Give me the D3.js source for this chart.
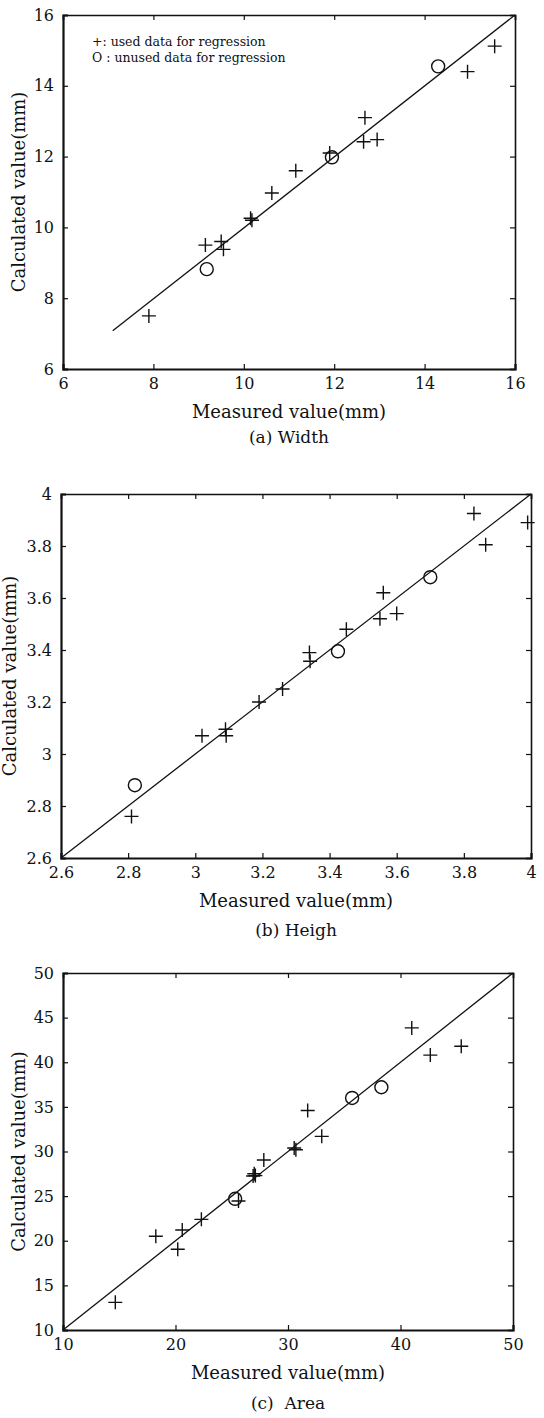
<!DOCTYPE html>
<html>
<head>
<meta charset="utf-8">
<script src="https://cdn.jsdelivr.net/npm/d3@7"></script>
<style>
  body { margin: 0; background: #fff; }
  text { font-family: "DejaVu Serif", "Liberation Serif", serif; fill: #111; }
</style>
</head>
<body>
<div id="chart-area"></div>
<script>
// Data ------------------------------------------------------
// [measured, calculated]
const widthUsed = [[7.9, 7.5], [9.15, 9.5], [9.5, 9.6], [9.55, 9.38], [10.15, 10.26], [10.18, 10.2],
  [10.62, 10.97], [11.15, 11.6], [11.9, 12.1], [12.65, 12.42], [12.95, 12.48], [12.68, 13.1],
  [14.95, 14.4], [15.55, 15.12]]
const widthUnused = [[9.18, 8.82], [11.95, 11.98], [14.3, 14.55]]
const widthFit = [[7.1, 7.08], [16, 16]]

const heightUsed = [[2.81, 2.76], [3.02, 3.07], [3.09, 3.095], [3.092, 3.07], [3.19, 3.2], [3.26, 3.25],
  [3.34, 3.39], [3.342, 3.357], [3.45, 3.48], [3.55, 3.52], [3.56, 3.62], [3.6, 3.54],
  [3.83, 3.925], [3.865, 3.805], [3.99, 3.89]]
const heightUnused = [[2.82, 2.88], [3.425, 3.395], [3.7, 3.68]]
const heightFit = [[2.6, 2.6], [4, 4]]

const areaUsed = [[14.65, 13.1], [18.25, 20.5], [20.2, 19.05], [20.6, 21.2], [22.3, 22.4], [25.6, 24.45],
  [26.9, 27.25], [27.0, 27.5], [27.1, 27.3], [27.85, 29.05], [30.55, 30.4], [30.7, 30.2],
  [31.75, 34.6], [33.0, 31.7], [41.0, 43.85], [42.65, 40.8], [45.4, 41.8]]
const areaUnused = [[25.3, 24.7], [35.7, 36.0], [38.3, 37.2]]
const areaFit = [[10, 10], [50, 50]]

// tick labels
const widthTicks = [6, 8, 10, 12, 14, 16]
const heightTicks = [2.6, 2.8, 3, 3.2, 3.4, 3.6, 3.8, 4]
const areaXTicks = [10, 20, 30, 40, 50]
const areaYTicks = [10, 15, 20, 25, 30, 35, 40, 45, 50]

const legendLines = ["+: used data for regression", "O : unused data for regression"]
const xTitle = "Measured value(mm)"
const yTitle = "Calculated value(mm)"

// Canvas setup ----------------------------------------------
const W = 544, H = 1418

const svg = d3.select("#chart-area").append("svg")
  .attr("width", W)
  .attr("height", H)

svg.append("rect").attr("width", W).attr("height", H).attr("fill", "#fff")

const panels = [
  { box: {L: 63, R: 515, T: 15, B: 369}, xTicks: widthTicks, yTicks: widthTicks,
    used: widthUsed, unused: widthUnused, fit: widthFit, caption: "(a) Width", titleX: 18, capDy: 68, legend: true },
  { box: {L: 61, R: 531, T: 494, B: 858}, xTicks: heightTicks, yTicks: heightTicks,
    used: heightUsed, unused: heightUnused, fit: heightFit, caption: "(b) Heigh", titleX: 9, capDy: 72 },
  { box: {L: 63, R: 513, T: 973, B: 1330}, xTicks: areaXTicks, yTicks: areaYTicks,
    used: areaUsed, unused: areaUnused, fit: areaFit, caption: "(c)  Area", titleX: 18, capDy: 73 }
]

panels.forEach(drawPanel)

function drawPanel(p){
  const b = p.box
  const g = svg.append("g")

  // Scales
  const x = d3.scaleLinear().domain(d3.extent(p.xTicks)).range([b.L, b.R])
  const y = d3.scaleLinear().domain(d3.extent(p.yTicks)).range([b.B, b.T])

  // Axes, ticks pointing inward on all four sides
  const fmt = d => String(d)
  const bottom = g.append("g")
    .attr("transform", `translate(0,${b.B})`)
    .call(d3.axisBottom(x).tickValues(p.xTicks).tickFormat(fmt).tickSize(-5).tickPadding(9))
  const left = g.append("g")
    .attr("transform", `translate(${b.L},0)`)
    .call(d3.axisLeft(y).tickValues(p.yTicks).tickFormat(fmt).tickSize(-5).tickPadding(9))
  const top = g.append("g")
    .attr("transform", `translate(0,${b.T})`)
    .call(d3.axisTop(x).tickValues(p.xTicks).tickFormat("").tickSize(-5))
  const right = g.append("g")
    .attr("transform", `translate(${b.R},0)`)
    .call(d3.axisRight(y).tickValues(p.yTicks).tickFormat("").tickSize(-5))

  ;[bottom, left, top, right].forEach(a => {
    a.selectAll("text").attr("font-family", null).attr("font-size", 16)
    a.selectAll("line").attr("stroke", "#111").attr("stroke-width", 1.2)
    a.select(".domain").attr("stroke", "#111")
  })
  bottom.select(".domain").attr("stroke-width", 2.2)
  left.select(".domain").attr("stroke-width", 2.2)
  top.select(".domain").attr("stroke-width", 1.6)
  right.select(".domain").attr("stroke-width", 1.6)

  // Regression line
  const line = d3.line().x(d => x(d[0])).y(d => y(d[1]))
  g.append("path")
    .attr("d", line(p.fit))
    .attr("fill", "none")
    .attr("stroke", "#111")
    .attr("stroke-width", 1.3)

  // Used points (+)
  g.selectAll(".used").data(p.used).join("path")
    .attr("class", "used")
    .attr("transform", d => `translate(${x(d[0])},${y(d[1])})`)
    .attr("d", "M-7,0H7M0,-7V7")
    .attr("stroke", "#111")
    .attr("stroke-width", 1.4)

  // Unused points (O)
  g.selectAll(".unused").data(p.unused).join("circle")
    .attr("class", "unused")
    .attr("cx", d => x(d[0]))
    .attr("cy", d => y(d[1]))
    .attr("r", 6.5)
    .attr("fill", "none")
    .attr("stroke", "#111")
    .attr("stroke-width", 1.4)

  // Labels
  const cx = (b.L + b.R) / 2
  g.append("text")
    .attr("x", cx).attr("y", b.B + 42)
    .attr("text-anchor", "middle").attr("dominant-baseline", "central")
    .attr("font-size", 18)
    .text(xTitle)

  g.append("text")
    .attr("transform", `translate(${p.titleX},${(b.T + b.B) / 2}) rotate(-90)`)
    .attr("text-anchor", "middle").attr("dominant-baseline", "central")
    .attr("font-size", 18)
    .text(yTitle)

  g.append("text")
    .attr("x", cx).attr("y", b.B + p.capDy)
    .attr("text-anchor", "middle").attr("dominant-baseline", "central")
    .attr("font-size", 17)
    .style("white-space", "pre")
    .text(p.caption)

  if (p.legend) {
    g.selectAll(".legend").data(legendLines).join("text")
      .attr("class", "legend")
      .attr("x", b.L + 29)
      .attr("y", (d, i) => b.T + 26 + i * 16)
      .attr("dominant-baseline", "central")
      .attr("font-size", 12.5)
      .text(d => d)
  }
}
</script>
</body>
</html>
